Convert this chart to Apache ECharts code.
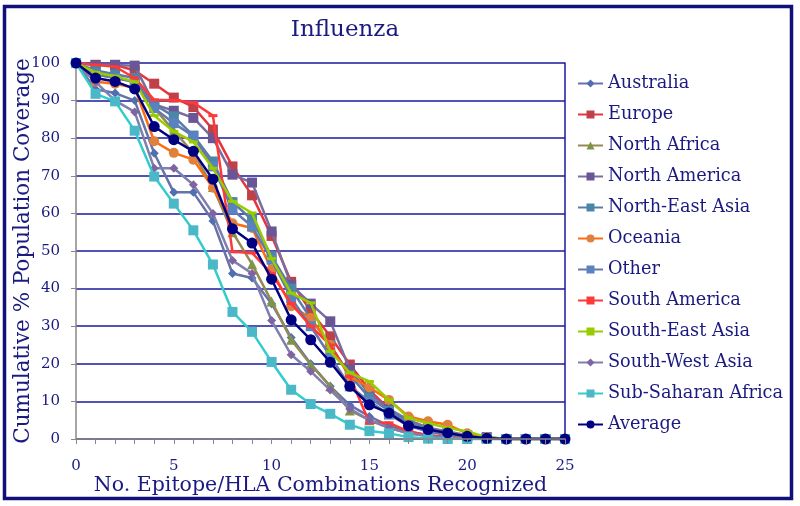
<!DOCTYPE html>
<html>
<head>
<meta charset="utf-8">
<script src="https://cdn.jsdelivr.net/npm/echarts@6/dist/echarts.min.js"></script>
<style>
html,body{margin:0;padding:0;background:#fff;}
#chart{width:800px;height:506px;}
</style>
</head>
<body>
<div id="chart"></div>
<script>
// ---- data ----
const xValues = [0,1,2,3,4,5,6,7,8,9,10,11,12,13,14,15,16,17,18,19,20,21,22,23,24,25];
const xTickLabels = [0,5,10,15,20,25];
const yTickLabels = [0,10,20,30,40,50,60,70,80,90,100];

const seriesNames = ["Australia","Europe","North Africa","North America","North-East Asia","Oceania","Other","South America","South-East Asia","South-West Asia","Sub-Saharan Africa","Average"];

const australia    = [100,93,92,90,76,65.6,65.6,58,44,42.8,36,27,20,14,9,6,3.5,2,1,0.5,0.2,0,0,0,0,0];
const europe       = [100,99.5,99.5,98,94.5,90.8,88.3,82.3,72.5,64.8,54,41.8,34,27.3,19.8,13,8,4,2.5,1.5,0.8,0.3,0,0,0,0];
const northAfrica  = [100,97,96,95,88,82,76,67,55,46.5,36.6,26.4,19.8,14,7.6,5,3,1.5,0.8,0.3,0,0,0,0,0,0];
const northAmerica = [100,99.5,99.5,99.3,89,87.3,85.4,80,70.3,68.2,55.2,41,36,31.3,18.5,12,8,5,3,2,1,0.5,0,0,0,0];
const neAsia       = [100,98,97,96,89,85.8,80.7,73.8,63,58.3,48.6,40,32,25,17,11,7.5,4.5,2.5,1.5,0.8,0.3,0,0,0,0];
const oceania      = [100,95,94.5,93.4,79.2,76.1,74.3,66.8,57.4,56.1,45,35.3,32.2,25,16.6,13.7,10.4,6,4.7,3.8,1.5,0.5,0,0,0,0];
const other        = [100,97,96,95,88,84,80.5,72.5,61,56.5,47.7,37.5,30,22,14,10,6.5,3.5,2,1,0.5,0.2,0,0,0,0];
const southAmerica = [100,99.5,99,96,90.2,90.1,89.5,86,49.8,49.5,44,36,30,25,16.6,4.3,4.3,2,1,0.5,0.2,0,0,0,0,0];
const seAsia       = [100,97.5,96.5,95,86,81.8,79,72,63.2,60.1,48,38.8,36.2,23.3,17.6,15.3,10.4,5.6,4.2,3,2,0.5,0,0,0,0];
const swAsia       = [100,95,90,87,72,72,67.6,60,47.5,44,31.5,22.4,18,13,8,5,3,1.5,0.8,0.3,0,0,0,0,0,0];
const ssAfrica     = [100,91.8,89.8,82,69.8,62.6,55.5,46.4,33.8,28.5,20.5,13.1,9.3,6.7,3.8,2.1,1.5,0.5,0.1,0,0,0,0,0,0,0];
const average      = [100,96,95.1,93.1,83.1,79.6,76.5,69.1,55.9,52.1,42.5,31.7,26.4,20.4,14.0,9.1,6.9,3.5,2.5,1.6,0.7,0.2,0,0,0,0];

const seriesValues = [australia,europe,northAfrica,northAmerica,neAsia,oceania,other,southAmerica,seAsia,swAsia,ssAfrica,average];

// ---- styles ----
const styles = [
  {line:'#6673A8', mark:'#4F6FB0', symbol:'diamond', size:9},
  {line:'#E8333A', mark:'#C0404A', symbol:'rect', size:10},
  {line:'#948A54', mark:'#7F9447', symbol:'triangle', size:10},
  {line:'#7B6C9E', mark:'#6A5595', symbol:'rect', size:10},
  {line:'#5A7AAA', mark:'#4A86A8', symbol:'rect', size:10},
  {line:'#FF6B10', mark:'#E0803C', symbol:'circle', size:10},
  {line:'#6677AA', mark:'#5B82C0', symbol:'rect', size:10},
  {line:'#FF3838', mark:'#FF3838', symbol:'rect', size:[9,3]},
  {line:'#99CC00', mark:'#99CC00', symbol:'rect', size:[9,3]},
  {line:'#7F7FAF', mark:'#8064A2', symbol:'diamond', size:9},
  {line:'#33CCCC', mark:'#4BB8C8', symbol:'rect', size:10},
  {line:'#000080', mark:'#000080', symbol:'circle', size:11}
];

const navy = '#1a1a80';
const font = 'DejaVu Serif';

const series = seriesNames.map((name,i)=>({
  name: name,
  type: 'line',
  data: xValues.map((x,j)=>[x, seriesValues[i][j]]),
  symbol: styles[i].symbol,
  symbolSize: styles[i].size,
  showSymbol: true,
  lineStyle: {color: styles[i].line, width: 2.5},
  itemStyle: {color: styles[i].mark},
  emphasis: {disabled: true},
  animation: false,
  z: 2 + i*0.01
}));

const chart = echarts.init(document.getElementById('chart'));
chart.setOption({
  animation: false,
  backgroundColor: '#fff',
  title: {
    text: 'Influenza',
    left: 340, top: 14,
    textAlign: 'center',
    textStyle: {fontFamily: font, fontSize: 23, fontWeight: 'normal', color: navy}
  },
  graphic: [{
    type: 'rect',
    shape: {x: 4.5, y: 6.5, width: 787, height: 492},
    style: {fill: 'none', stroke: '#10107a', lineWidth: 3.5},
    z: 100
  }],
  legend: {
    orient: 'vertical',
    left: 572, top: 68.5,
    itemWidth: 25, itemHeight: 10, itemGap: 11,
    textStyle: {fontFamily: font, fontSize: 17.7, color: navy, lineHeight: 20},
    data: seriesNames
  },
  grid: {left: 76, top: 63, width: 489, height: 376, outerBoundsMode: 'none', containLabel: false},
  xAxis: {
    type: 'value', min: 0, max: 25, interval: 1,
    z: 3,
    axisLine: {show: true, lineStyle: {color: '#888', width: 1.5}},
    axisTick: {show: true, length: 5, lineStyle: {color: '#888'}},
    splitLine: {show: false},
    axisLabel: {
      fontFamily: font, fontSize: 15, color: navy, margin: 20,
      formatter: v => xTickLabels.includes(v) ? String(v) : ''
    },
    name: 'No. Epitope/HLA Combinations Recognized',
    nameLocation: 'middle', nameGap: 36, nameMoveOverlap: false,
    nameTextStyle: {fontFamily: font, fontSize: 20.5, color: navy}
  },
  yAxis: [{
    type: 'value', min: 0, max: 100, interval: 10,
    axisLine: {show: true, lineStyle: {color: '#888', width: 1.5}},
    axisTick: {show: true, length: 5, lineStyle: {color: '#888'}},
    splitLine: {show: true, lineStyle: {color: '#1a1a9c', width: 1.5}},
    axisLabel: {
      fontFamily: font, fontSize: 15, color: navy, margin: 16,
      formatter: v => yTickLabels.includes(v) ? String(v) : ''
    },
    name: 'Cumulative % Population Coverage',
    nameLocation: 'middle', nameGap: 42, nameMoveOverlap: false,
    nameTextStyle: {fontFamily: font, fontSize: 21.5, color: navy}
  },{
    type: 'value', min: 0, max: 100, interval: 10, position: 'right',
    axisLine: {show: true, lineStyle: {color: '#1a1a9c', width: 1.5}},
    axisTick: {show: false}, axisLabel: {show: false}, splitLine: {show: false}
  }],
  series: series
});
</script>
</body>
</html>
